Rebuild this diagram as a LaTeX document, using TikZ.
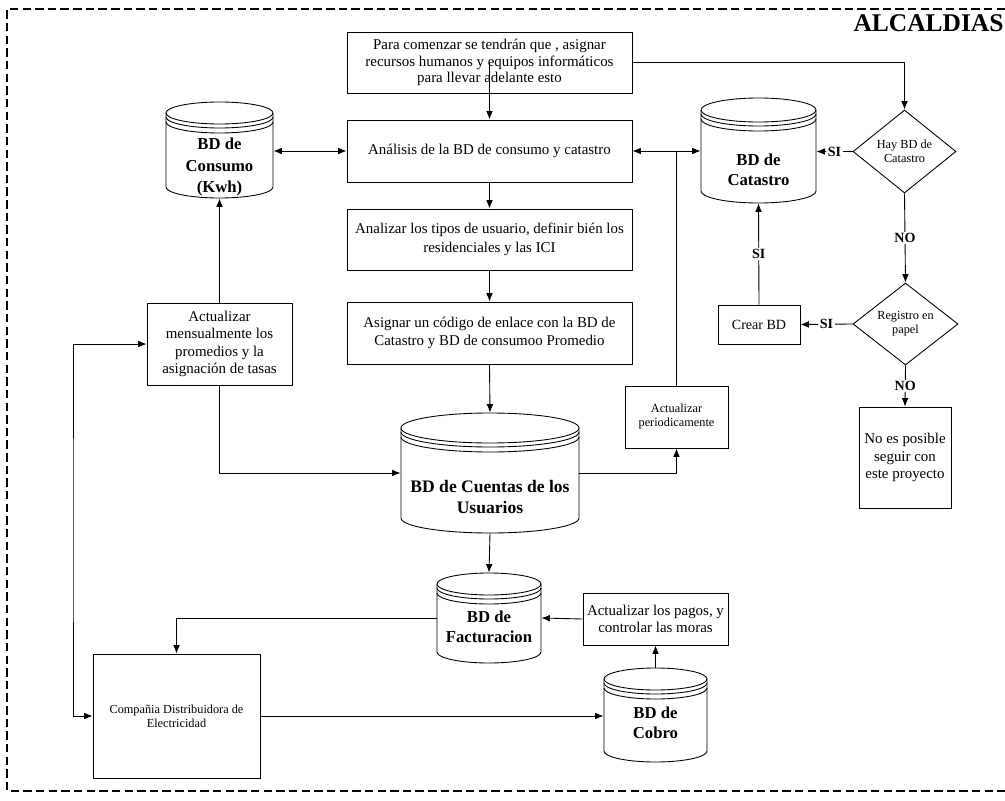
\documentclass[tikz,border=0pt]{standalone}
\usepackage{fontspec}
\setmainfont{Liberation Serif}
\usepackage{tikz}
\usetikzlibrary{shapes.geometric,arrows.meta}

\newcommand{\pxu}{0.02cm}
\newcommand{\dbcyl}[6]{%
  \draw (#2,{-(#3+#6)}) -- (#2,{-(#5-#6)}) arc[start angle=180,end angle=360,x radius={(#4-#2)/2},y radius=#6] -- (#4,{-(#3+#6)});
  \draw ({(#2+#4)/2},{-(#3+#6)}) ellipse [x radius={(#4-#2)/2},y radius=#6];
  \foreach \k in {4,9} \draw (#2,{-(#3+#6+\k)}) arc[start angle=180,end angle=360,x radius={(#4-#2)/2},y radius=#6];
  \node[inner sep=0pt, minimum width={(#4-#2)*\pxu}, minimum height={(#5-#3)*\pxu}] (#1) at ({(#2+#4)/2},{-(#3+#5)/2}) {};
}

\begin{document}
\begin{tikzpicture}[x=0.02cm, y=0.02cm, line width=0.5pt, >={Latex[length=4.8pt,width=3.8pt]},
    wh/.style 2 args={minimum width=#1*\pxu, minimum height=#2*\pxu},
    box/.style={draw, align=center, inner sep=1pt, font=\fontsize{8.5}{10.5}\selectfont},
    small/.style={font=\fontsize{7}{8}\selectfont},
    dec/.style={draw, diamond, inner sep=0pt, align=center, font=\fontsize{7}{8}\selectfont},
    dbt/.style={align=center, inner sep=0pt, font=\bfseries\fontsize{9.5}{11.5}\selectfont},
    lbl/.style={fill=white, inner sep=1pt, font=\bfseries\fontsize{8}{8}\selectfont}]

    \useasboundingbox (0,0) rectangle (1005,-801);
    \draw[line width=1.7pt, dash pattern=on 4.8pt off 2.4pt] (1005,-9) -- (7,-9) -- (7,-791) -- (1005,-791);

    \node[font=\bfseries\fontsize{14.5}{15}\selectfont, anchor=east, inner sep=0pt] (titulo) at (1004,-23) {ALCALDIAS};

    \node[box, wh={285}{61}, font=\fontsize{8.5}{9.5}\selectfont] (start) at (489.5,-62.5) {Para comenzar se tendrán que , asignar\\recursos humanos y equipos informáticos\\para llevar adelante esto};
    \node[box, wh={285}{62}] (analisis) at (489.5,-151) {Análisis de la BD de consumo y catastro};
    \node[box, wh={285}{61}] (tipos) at (489.5,-239.5) {Analizar los tipos de usuario, definir bién los\\residenciales y las ICI};
    \node[box, wh={285}{62}] (codigo) at (489.5,-333) {Asignar un código de enlace con la BD de\\Catastro y BD de consumoo Promedio};
    \node[box, wh={145}{82}, font=\fontsize{8.5}{10}\selectfont] (mensual) at (219.5,-344) {Actualizar\\mensualmente los\\promedios y la\\asignación de tasas};
    \node[box, small, wh={103}{62}] (periodico) at (676.5,-417) {Actualizar\\periodicamente};
    \node[box, wh={82}{39}, font=\fontsize{8}{10}\selectfont] (crear) at (759,-324.5) {Crear BD};
    \node[box, wh={92}{101}, font=\fontsize{8.5}{10}\selectfont] (noposible) at (905,-457.5) {No es posible\\seguir con\\este proyecto};
    \node[box, wh={145}{52}, font=\fontsize{8.5}{10}\selectfont] (pagos) at (655.5,-619) {Actualizar los pagos, y\\controlar las moras};
    \node[box, small, wh={167}{124}] (compania) at (176.5,-716) {Compañia Distribuidora de\\Electricidad};
    \node[dec, wh={103}{83}] (hay) at (904.5,-151.5) {Hay BD de\\Catastro};
    \node[dec, wh={105}{82}] (registro) at (905.5,-324) {Registro en\\papel};

    \dbcyl{consumo}{166}{102}{273}{198}{11}
    \node[dbt, font=\bfseries\fontsize{9.5}{12}\selectfont] (consumo-t) at (219.5,-167) {BD de\\Consumo\\(Kwh)};
    \dbcyl{catastro}{701}{98}{816}{203}{12}
    \node[dbt] (catastro-t) at (758.5,-170) {BD de\\Catastro};
    \dbcyl{cuentas}{401}{413}{579}{533}{15}
    \node[dbt, font=\bfseries\fontsize{10}{12}\selectfont] (cuentas-t) at (490,-497) {BD de Cuentas de los\\Usuarios};
    \dbcyl{factura}{437}{573}{541}{663}{11}
    \node[dbt] (factura-t) at (489,-627) {BD de\\Facturacion};
    \dbcyl{cobro}{604}{668}{707}{762}{11}
    \node[dbt] (cobro-t) at (655.5,-723) {BD de\\Cobro};

    \coordinate (retorno) at (73,-530);

    \draw[->] (start.center) -- (analisis.north);
    \draw[->] (start.east) -| (hay.north);
    \draw[<->] (consumo.east |- analisis.west) -- (analisis.west);
    \draw[<->] (analisis.east) -- (catastro.west |- analisis.east);
    \draw[->] (analisis.south) -- (tipos.north);
    \draw[->] (tipos.south) -- (codigo.north);
    \draw[->] (codigo.south) -- (cuentas.north);
    \draw[->] (mensual.north) -- (consumo.south);
    \draw[->] (mensual.south) |- (cuentas.west);
    \draw[->] (cuentas.east) -| (periodico.south);
    \draw (periodico.north) -- (periodico.north |- analisis.east);
    \draw[->] (hay.west) -- node[lbl] (si1) {SI} (catastro.east |- hay.west);
    \draw[->] (hay.south) -- node[lbl] (no1) {NO} (registro.north);
    \draw[->] (registro.west) -- node[lbl] (si2) {SI} (crear.east);
    \draw[->] (crear.north) -- node[lbl] (si3) {SI} (catastro.south);
    \draw[->] (registro.south) -- node[lbl] (no2) {NO} (noposible.north);
    \draw[->] (cuentas.south) -- (factura.north);
    \draw[->] (pagos.west) -- (factura.east);
    \draw[->] (cobro.north) -- (pagos.south);
    \draw[->] (factura.west) -| (compania.north);
    \draw[->] (compania.east) -- (cobro.west |- compania.east);
    \draw[<->] (mensual.west) -| (retorno) |- (compania.west);
\end{tikzpicture}
\end{document}
